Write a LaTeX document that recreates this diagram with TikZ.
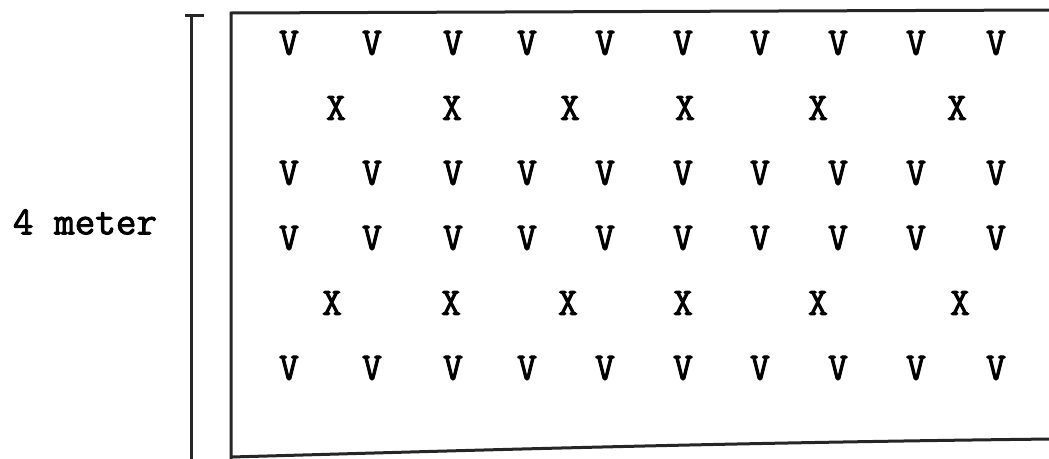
\documentclass[tikz,border=0pt]{standalone}
\usepackage{fontspec}
\newfontfamily\tw{Latin Modern Mono}[FakeBold=2.2]
\begin{document}
\begin{tikzpicture}[x=1pt,y=-1pt,
  plant/.style={font=\tw\fontsize{39}{39}\selectfont, inner sep=0pt, anchor=center},
  lbl/.style={font=\tw\fontsize{40}{40}\selectfont, inner sep=0pt, anchor=center},
  edge/.style={line width=3pt, black!85}]
\useasboundingbox (0,0) rectangle (1049,458);
% dimension line
\coordinate (dt) at (191,15);
\coordinate (db) at (191,462);
\coordinate (tl) at (185,15);
\coordinate (tr) at (204,15);
\draw[edge] (dt) -- (db);
\draw[edge] (tl) -- (tr);
% plot border (open on the right)
\coordinate (b1) at (231,13);
\coordinate (b2) at (1052,10);
\coordinate (b3) at (231,462);
\coordinate (b4) at (231,457);
\coordinate (b5) at (1052,439);
\draw[edge] (b2) -- (b1) -- (b3);
\draw[edge] (b4) .. controls (450,451) and (700,443) .. (b5);
% label
\node[lbl] (len) at (85,222) {4 meter};
% V rows
\foreach \r/\y in {1/43,3/173,4/238,6/368}{
  \foreach \c/\x in {1/289,2/372,3/453,4/527,5/605,6/683,7/760,8/838,9/916,10/996}{
    \node[plant] (v\r-\c) at (\x,\y) {V};
  }
}
% X rows
\foreach \c/\x in {1/336,2/452,3/570,4/685,5/818,6/957}{
  \node[plant] (x2-\c) at (\x,108) {X};
}
\foreach \c/\x in {1/332,2/451,3/568,4/683,5/818,6/960}{
  \node[plant] (x5-\c) at (\x,303) {X};
}
\end{tikzpicture}
\end{document}
